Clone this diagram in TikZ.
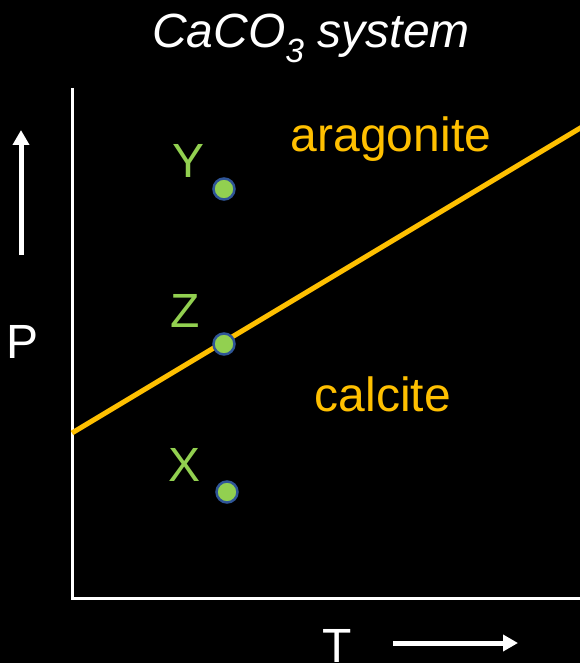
\documentclass[tikz,border=0pt]{standalone}
\usepackage{fontspec}
\setmainfont{Liberation Sans}
\usetikzlibrary{arrows.meta}
\definecolor{orng}{HTML}{FFC000}
\definecolor{grn}{HTML}{92D050}
\definecolor{dblue}{HTML}{2F5597}
\begin{document}
\begin{tikzpicture}[x=1pt,y=-1pt,
  lbl/.style={font=\fontsize{48}{50}\selectfont, inner sep=0pt, anchor=base},
  pt/.style={circle, fill=grn, draw=dblue, line width=2.5pt, minimum size=21pt, inner sep=0pt},
  bigarrow/.style={white, line width=5pt, -{Triangle[width=16pt,length=15pt]}}]
\fill[black] (0,0) rectangle (580,663);
\useasboundingbox (0,0) rectangle (580,663);
% axes
\coordinate (top) at (72,88);
\coordinate (origin) at (72,598);
\coordinate (right) at (580,598);
\draw[white, line width=3pt] (top) -- (origin) -- (right);
% phase boundary
\coordinate (b1) at (72,433);
\coordinate (b2) at (582,127);
\draw[orng, line width=5pt] (b1) -- (b2);
% points
\node[pt] (Y) at (224,189) {};
\node[pt] (Z) at (224,344) {};
\node[pt] (X) at (227,492) {};
\node[lbl, text=grn] (Ylab) at (189,177) {Y};
\node[lbl, text=grn] (Zlab) at (185,327) {Z};
\node[lbl, text=grn] (Xlab) at (185,481) {X};
% region labels
\node[lbl, text=orng] (arag) at (391,152) {aragonite};
\node[lbl, text=orng] (calc) at (383,411) {calcite};
% title
\node[lbl, text=white, font=\fontsize{48}{50}\selectfont\itshape] (title) at (311,48) {CaCO\textsubscript{3} system};
% axis labels
\node[lbl, text=white] (P) at (23,358) {P};
\node[lbl, text=white] (T) at (337,662) {T};
% arrows
\coordinate (pa1) at (21,255);
\coordinate (pa2) at (21,130);
\draw[bigarrow] (pa1) -- (pa2);
\coordinate (ta1) at (393,643);
\coordinate (ta2) at (518,643);
\draw[bigarrow] (ta1) -- (ta2);
\end{tikzpicture}
\end{document}
